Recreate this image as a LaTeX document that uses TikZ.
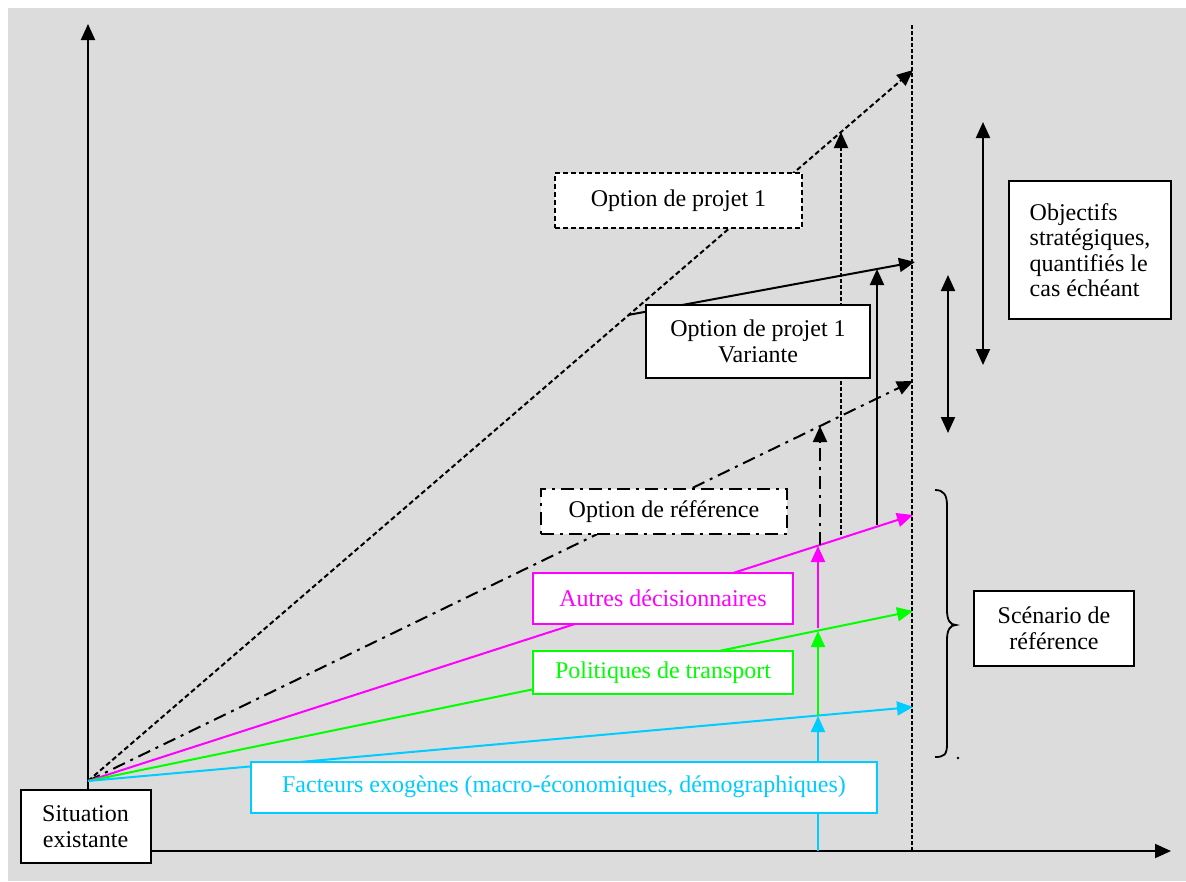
\documentclass[tikz,border=0pt]{standalone}
\usepackage{fontspec}
\setmainfont{Liberation Serif}
\usetikzlibrary{arrows.meta,calc}
\definecolor{bg}{HTML}{DCDCDC}
\definecolor{mag}{HTML}{FF00FF}
\definecolor{grn}{HTML}{00FF00}
\definecolor{cyn}{HTML}{00CCFF}
\tikzset{
  box/.style={draw, fill=white, line width=2pt, inner sep=2pt, align=center, font=\fontsize{24}{25.5}\selectfont},
  ln/.style={line width=2pt},
  tip/.style={-{Triangle[length=16pt,width=14pt]}},
  dtip/.style={{Triangle[length=16pt,width=14pt]}-{Triangle[length=16pt,width=14pt]}},
  shortdash/.style={dash pattern=on 5pt off 3pt},
  vdash/.style={dash pattern=on 4pt off 2pt},
  dashdot/.style={dash pattern=on 13pt off 6pt on 3pt off 6pt},
}
\begin{document}
\begin{tikzpicture}[x=1pt,y=-1pt]
\useasboundingbox (0,0) rectangle (1186,881);
\fill[bg] (8,8) rectangle (1186,881);
% key coordinates
\coordinate (O) at (88,781);
\coordinate (Ytop) at (88,24);
\coordinate (Ybot) at (88,790);
\coordinate (Xl) at (151,851);
\coordinate (Xr) at (1171,851);
\coordinate (Vt) at (912,25);
\coordinate (Vb) at (912,851);
\coordinate (E1) at (913,70);
\coordinate (Evs) at (628,315);
\coordinate (Ev) at (915,262);
\coordinate (Er) at (913,381);
\coordinate (Em) at (913,515);
\coordinate (Eg) at (913,611);
\coordinate (Ec) at (913,707);
% vertical arrows
\coordinate (Cb) at (818,851);
\coordinate (Ct) at (818,716);
\coordinate (Gt) at (818,631);
\coordinate (Mb) at (818,628);
\coordinate (Mt) at (818,546);
\coordinate (Rb) at (820,545);
\coordinate (Rt) at (820,426);
\coordinate (Db) at (841,535);
\coordinate (Dt) at (841,132);
\coordinate (Sb) at (877,525);
\coordinate (St) at (877,269);
% axes
\draw[ln,tip] (Ybot) -- (Ytop);
\draw[ln,tip] (Xl) -- (Xr);
\draw[ln,vdash] (Vt) -- (Vb);
% rays
\draw[ln,shortdash,tip] (O) -- (E1);
\draw[ln,tip] (Evs) -- (Ev);
\draw[ln,dashdot,tip] (O) -- (Er);
\draw[ln,mag,tip] (O) -- (Em);
\draw[ln,grn,tip] (O) -- (Eg);
\draw[ln,cyn,tip] (O) -- (Ec);
% vertical increments
\draw[ln,cyn,tip] (Cb) -- (Ct);
\draw[ln,grn,tip] (Ct) -- (Gt);
\draw[ln,mag,tip] (Mb) -- (Mt);
\draw[ln,dashdot,tip] (Rb) -- (Rt);
\draw[ln,vdash,tip] (Db) -- (Dt);
\draw[ln,tip] (Sb) -- (St);
% double arrows
\coordinate (A1t) at (983,122);
\coordinate (A1b) at (983,365);
\coordinate (A2t) at (948,275);
\coordinate (A2b) at (948,433);
\draw[ln,dtip] (A1t) -- (A1b);
\draw[ln,dtip] (A2t) -- (A2b);
% brace
\draw[line width=1.8pt] (935,490) .. controls (944,490) and (947,495) .. (947,506) -- (947,610)
  .. controls (947,620) and (950,625) .. (956,625)
  .. controls (950,625) and (947,630) .. (947,640) -- (947,744)
  .. controls (947,755) and (944,757) .. (935,757);
\fill (958,758) circle (1.3pt);
% boxes
\node[box, minimum width=130pt, minimum height=73pt] (sit) at (85.5,826.5) {Situation\\existante};
\node[box, shortdash, minimum width=247pt, minimum height=55pt] (opt1) at (678.5,200.5) {Option de projet 1};
\node[box, minimum width=224pt, minimum height=73pt] (var) at (758,341.5) {Option de projet 1\\Variante};
\node[box, dashdot, minimum width=246pt, minimum height=45pt] (ref) at (664,511.5) {Option de référence};
\node[box, draw=mag, text=mag, minimum width=260pt, minimum height=51pt] (aut) at (663,598.5) {Autres décisionnaires};
\node[box, draw=grn, text=grn, minimum width=260pt, minimum height=43pt] (pol) at (663,672.5) {Politiques de transport};
\node[box, draw=cyn, text=cyn, minimum width=626pt, minimum height=51pt] (fac) at (564,787) {Facteurs exogènes (macro-économiques, démographiques)};
\node[box, align=left, minimum width=162pt, minimum height=138pt] (obj) at (1090,250) {Objectifs\\stratégiques,\\quantifiés le\\cas échéant};
\node[box, minimum width=160pt, minimum height=75pt] (scen) at (1054,628.5) {Scénario de\\référence};
\end{tikzpicture}
\end{document}
